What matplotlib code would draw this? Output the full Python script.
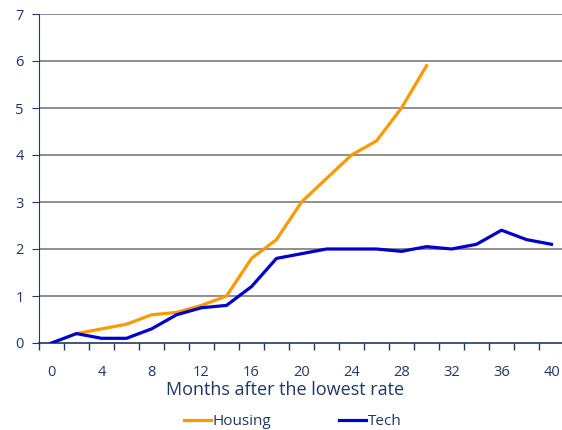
import numpy as np
import matplotlib
matplotlib.use("Agg")
import matplotlib.pyplot as plt

plt.rcParams['font.family'] = ['Open Sans', 'DejaVu Sans']

months = [0, 2, 4, 6, 8, 10, 12, 14, 16, 18, 20, 22, 24, 26, 28, 30, 32, 34, 36, 38, 40]
housing_months = [2, 4, 6, 8, 10, 12, 14, 16, 18, 20, 22, 24, 26, 28, 30]
housing = [0.2, 0.3, 0.4, 0.6, 0.65, 0.8, 1.0, 1.8, 2.2, 3.0, 3.5, 4.0, 4.3, 5.0, 5.9]
tech = [0, 0.2, 0.1, 0.1, 0.3, 0.6, 0.75, 0.8, 1.2, 1.8, 1.9, 2.0, 2.0, 2.0, 1.95,
        2.05, 2.0, 2.1, 2.4, 2.2, 2.1]

navy = '#1F3864'
fig = plt.figure(figsize=(5.62, 4.30), dpi=100)
ax = fig.add_axes([39/562, 87/430, 525/562, 329/430])

for y in range(1, 8):
    ax.axhline(y, color='#868686', linewidth=1.3, zorder=1)

ax.plot(housing_months, housing, color='#FF9900', linewidth=2.3, label='Housing', zorder=3)
ax.plot(months, tech, color='#0000CC', linewidth=2.3, label='Tech', zorder=3)

ax.set_xlim(-1, 41)
ax.set_ylim(0, 7)
ax.set_xticks(range(0, 41, 4))
ax.set_xticks(np.arange(-1, 42, 2), minor=True)
ax.tick_params(axis='x', which='major', length=0, pad=16, labelsize=10.5, labelcolor=navy)
ax.tick_params(axis='x', which='minor', length=5, color=navy, width=1)
ax.set_yticks(range(0, 8))
ax.tick_params(axis='y', length=5, color=navy, labelsize=10.5, labelcolor=navy, pad=6)

for s in ['top', 'right']:
    ax.spines[s].set_visible(False)
ax.spines['left'].set_color(navy)
ax.spines['bottom'].set_color(navy)
ax.spines['bottom'].set_linewidth(1.2)

ax.set_xlabel('Months after the lowest rate', fontsize=13, color=navy)
ax.xaxis.set_label_coords(0.4686, -0.114)
ax.legend(loc='center', bbox_to_anchor=(0.483, -0.24), ncol=2, frameon=False,
          fontsize=11, labelcolor=navy, handlelength=1.8, handletextpad=0.1,
          columnspacing=4.4)

fig.savefig('out.png', dpi=100)
